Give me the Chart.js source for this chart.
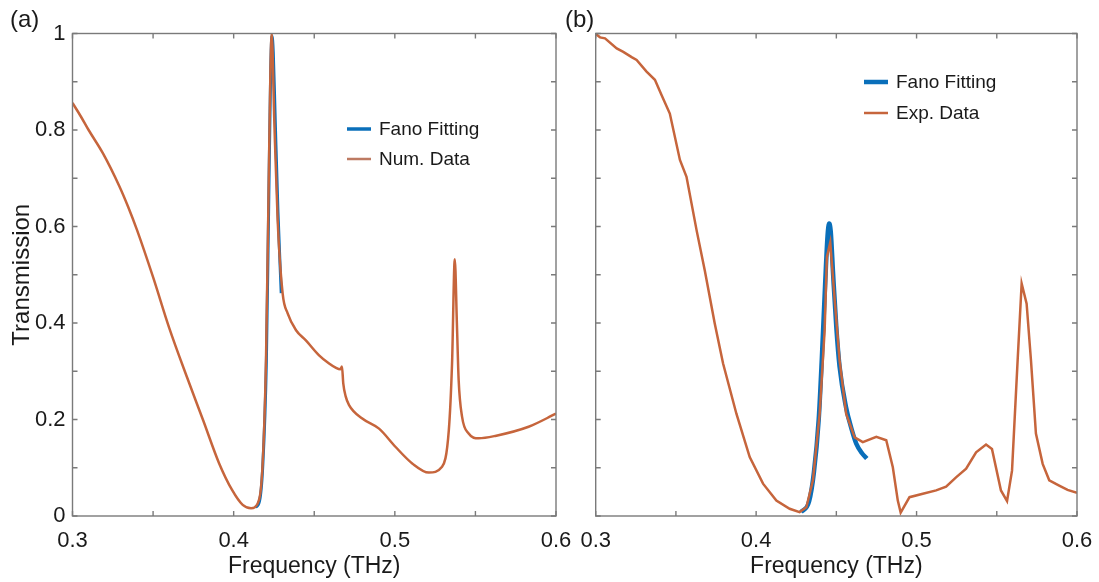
<!DOCTYPE html>
<html>
<head>
<meta charset="utf-8">
<script src="https://cdn.jsdelivr.net/npm/chart.js@4.4.1/dist/chart.umd.min.js"></script>
<style>
    body { margin: 0; background: #fff; }
    #contenedor { position: relative; width: 1099px; height: 582px; overflow: hidden; }
    canvas { position: absolute; top: 0; }
    .etiqueta { position: absolute; font-family: "Liberation Sans", Arial, sans-serif; font-size: 24px; color: #1a1a1a; }
</style>
</head>
<body>
<div id="contenedor">
    <canvas id="graficaA" width="575" height="582" style="left:0px"></canvas>
    <canvas id="graficaB" width="521" height="582" style="left:578px"></canvas>
    <div class="etiqueta" style="left:10px;top:5px">(a)</div>
    <div class="etiqueta" style="left:565px;top:5px">(b)</div>
</div>
<script>
// DATOS

// ejes
const xTicks = [0.3, 0.35, 0.4, 0.45, 0.5, 0.55, 0.6];
const xTickLabels = ["0.3", "", "0.4", "", "0.5", "", "0.6"];
const yTicks = [0, 0.1, 0.2, 0.3, 0.4, 0.5, 0.6, 0.7, 0.8, 0.9, 1];
const yTickLabels = ["0", "", "0.2", "", "0.4", "", "0.6", "", "0.8", "", "1"];

// (a) datos numericos
const freqNumA = [0.300, 0.305, 0.310, 0.319, 0.329, 0.3345, 0.340, 0.350, 0.360, 0.371, 0.381, 0.391, 0.399, 0.4056, 0.4108, 0.4149, 0.418, 0.4201, 0.4217, 0.4228, 0.4236, 0.4252, 0.4273, 0.4304, 0.4335, 0.4387, 0.4448, 0.453, 0.4592, 0.463, 0.4662, 0.4672, 0.468, 0.4695, 0.4716, 0.4798, 0.4902, 0.5005, 0.5108, 0.5211, 0.5293, 0.5335, 0.5355, 0.5372, 0.5385, 0.5396, 0.5417, 0.5458, 0.552, 0.5623, 0.583, 0.600];
const transNumA = [0.856, 0.829, 0.80, 0.751, 0.684, 0.641, 0.593, 0.495, 0.39, 0.288, 0.199, 0.109, 0.054, 0.023, 0.016, 0.026, 0.109, 0.33, 0.68, 0.923, 1.0, 0.82, 0.613, 0.461, 0.42, 0.385, 0.364, 0.333, 0.316, 0.308, 0.304, 0.31, 0.275, 0.248, 0.23, 0.202, 0.181, 0.143, 0.109, 0.090, 0.102, 0.178, 0.316, 0.532, 0.40, 0.282, 0.206, 0.171, 0.161, 0.166, 0.185, 0.212];

// (a) ajuste Fano
const freqFanoA = [0.4135, 0.416, 0.418, 0.4203, 0.4218, 0.4230, 0.4238, 0.4246, 0.4258, 0.4275, 0.4295];
const transFanoA = [0.018, 0.03, 0.1, 0.32, 0.66, 0.93, 0.995, 0.96, 0.82, 0.63, 0.462];

// (b) datos experimentales
const freqExpB = [0.300, 0.3027, 0.3058, 0.3131, 0.3172, 0.3224, 0.3255, 0.3317, 0.3369, 0.3411, 0.3462, 0.3525, 0.3566, 0.3629, 0.368, 0.3742, 0.3794, 0.3877, 0.396, 0.4043, 0.4126, 0.4209, 0.4271, 0.4313, 0.4354, 0.4396, 0.4427, 0.4441, 0.4462, 0.449, 0.452, 0.4561, 0.4614, 0.4665, 0.4749, 0.4811, 0.4852, 0.4883, 0.4901, 0.4956, 0.5039, 0.5122, 0.5184, 0.5246, 0.5309, 0.5371, 0.5433, 0.547, 0.5526, 0.5564, 0.5595, 0.563, 0.5655, 0.5686, 0.5713, 0.5744, 0.5786, 0.5827, 0.5889, 0.5941, 0.600];
const transExpB = [0.999, 0.992, 0.99, 0.969, 0.962, 0.951, 0.945, 0.921, 0.904, 0.872, 0.834, 0.738, 0.703, 0.592, 0.509, 0.399, 0.316, 0.212, 0.122, 0.067, 0.032, 0.015, 0.008, 0.018, 0.074, 0.212, 0.385, 0.537, 0.567, 0.447, 0.323, 0.212, 0.163, 0.153, 0.164, 0.157, 0.101, 0.032, 0.007, 0.039, 0.046, 0.053, 0.061, 0.08, 0.098, 0.132, 0.148, 0.139, 0.053, 0.031, 0.094, 0.323, 0.482, 0.44, 0.323, 0.171, 0.108, 0.074, 0.063, 0.054, 0.048];

// (b) ajuste Fano
const freqFanoB = [0.428, 0.433, 0.436, 0.439, 0.441, 0.443, 0.4445, 0.4455, 0.4465, 0.448, 0.450, 0.452, 0.456, 0.4595, 0.4624, 0.466, 0.469];
const transFanoB = [0.008, 0.03, 0.09, 0.2, 0.33, 0.48, 0.58, 0.606, 0.59, 0.5, 0.39, 0.31, 0.226, 0.18, 0.15, 0.13, 0.119];

const AZUL = '#0a6fba';
const NARANJA = '#c6653c';
const TEXTO = '#1a1a1a';
const FUENTE = '"Liberation Sans", Arial, sans-serif';

function puntos(xs, ys) {
    return xs.map((x, i) => ({ x: x, y: ys[i] }));
}

// marco con ticks hacia adentro (estilo matlab)
const marcoPlugin = {
    id: 'marco',
    afterDraw(chart) {
        const ctx = chart.ctx;
        const a = chart.chartArea;
        const sx = chart.scales.x, sy = chart.scales.y;
        ctx.save();
        ctx.strokeStyle = '#7a7a7a';
        ctx.lineWidth = 1.4;
        ctx.strokeRect(a.left, a.top, a.right - a.left, a.bottom - a.top);
        ctx.beginPath();
        xTicks.forEach(v => {
            const px = sx.getPixelForValue(v);
            ctx.moveTo(px, a.bottom); ctx.lineTo(px, a.bottom - 5);
            ctx.moveTo(px, a.top); ctx.lineTo(px, a.top + 5);
        });
        yTicks.forEach(v => {
            const py = sy.getPixelForValue(v);
            ctx.moveTo(a.left, py); ctx.lineTo(a.left + 5, py);
            ctx.moveTo(a.right, py); ctx.lineTo(a.right - 5, py);
        });
        ctx.stroke();
        ctx.restore();
    }
};

// leyenda dibujada a mano dentro del area
const leyendaPlugin = {
    id: 'leyendaManual',
    afterDraw(chart, args, opts) {
        const ctx = chart.ctx;
        ctx.save();
        ctx.font = '19px ' + FUENTE;
        ctx.textBaseline = 'middle';
        ctx.fillStyle = TEXTO;
        (opts.items || []).forEach(it => {
            ctx.strokeStyle = it.color;
            ctx.lineWidth = it.grosor;
            ctx.beginPath();
            ctx.moveTo(it.x, it.y);
            ctx.lineTo(it.x + 24, it.y);
            ctx.stroke();
            ctx.fillText(it.texto, it.x + 32, it.y + 1);
        });
        ctx.restore();
    }
};

function crearGrafica(id, datasets, itemsLeyenda, conEtiquetasY, anchoY, padDerecha) {
    return new Chart(document.getElementById(id), {
        type: 'line',
        data: { datasets: datasets },
        plugins: [marcoPlugin, leyendaPlugin],
        options: {
            responsive: false,
            animation: false,
            layout: { padding: { top: 33.5, right: padDerecha, left: 0, bottom: 0 } },
            elements: { point: { radius: 0 } },
            plugins: {
                legend: { display: false },
                tooltip: { enabled: false },
                leyendaManual: { items: itemsLeyenda }
            },
            scales: {
                x: {
                    type: 'linear',
                    min: 0.3,
                    max: 0.6,
                    afterFit: function (s) {
                        s.height = 66;
                        s.paddingLeft = 0;   // que las etiquetas no empujen el area
                        s.paddingRight = 0;
                    },
                    afterBuildTicks: function (s) { s.ticks = xTicks.map(v => ({ value: v })); },
                    grid: { display: false, drawTicks: false },
                    border: { display: false },
                    ticks: {
                        padding: 12,
                        color: TEXTO,
                        font: { family: FUENTE, size: 22 },
                        maxRotation: 0,
                        autoSkip: false,
                        callback: function (v, i) { return xTickLabels[i]; }
                    },
                    title: {
                        display: true,
                        text: 'Frequency (THz)',
                        color: TEXTO,
                        font: { family: FUENTE, size: 23 },
                        padding: { top: 2, bottom: 2 }
                    }
                },
                y: {
                    type: 'linear',
                    min: 0,
                    max: 1,
                    afterFit: function (s) {
                        s.width = anchoY;
                        s.paddingTop = 0;
                        s.paddingBottom = 0;
                    },
                    afterBuildTicks: function (s) { s.ticks = yTicks.map(v => ({ value: v })); },
                    grid: { display: false, drawTicks: false },
                    border: { display: false },
                    ticks: {
                        display: conEtiquetasY,
                        padding: 7,
                        color: TEXTO,
                        font: { family: FUENTE, size: 22 },
                        autoSkip: false,
                        callback: function (v, i) { return yTickLabels[i]; }
                    },
                    title: {
                        display: conEtiquetasY,
                        text: 'Transmission',
                        color: TEXTO,
                        font: { family: FUENTE, size: 24 },
                        padding: { top: 8, bottom: 8 }
                    }
                }
            }
        }
    });
}

// GRAFICA (a)  -- el naranja va encima del azul (order menor = encima)
crearGrafica('graficaA', [
    {
        label: 'Fano Fitting',
        data: puntos(freqFanoA, transFanoA),
        borderColor: AZUL,
        borderWidth: 3,
        cubicInterpolationMode: 'monotone',
        order: 2,
        fill: false
    },
    {
        label: 'Num. Data',
        data: puntos(freqNumA, transNumA),
        borderColor: NARANJA,
        borderWidth: 2.5,
        cubicInterpolationMode: 'monotone',
        order: 1,
        fill: false
    }
], [
    { texto: 'Fano Fitting', color: AZUL, grosor: 3.5, x: 347, y: 129 },
    { texto: 'Num. Data', color: '#bd7a62', grosor: 2.5, x: 347, y: 159 }
], true, 72.5, 19);

// GRAFICA (b)
crearGrafica('graficaB', [
    {
        label: 'Fano Fitting',
        data: puntos(freqFanoB, transFanoB),
        borderColor: AZUL,
        borderWidth: 4.5,
        cubicInterpolationMode: 'monotone',
        order: 2,
        fill: false
    },
    {
        label: 'Exp. Data',
        data: puntos(freqExpB, transExpB),
        borderColor: NARANJA,
        borderWidth: 2.5,
        tension: 0,
        order: 1,
        fill: false
    }
], [
    { texto: 'Fano Fitting', color: AZUL, grosor: 4.5, x: 286, y: 82 },
    { texto: 'Exp. Data', color: NARANJA, grosor: 2.5, x: 286, y: 113 }
], false, 17.7, 22);
</script>
</body>
</html>
